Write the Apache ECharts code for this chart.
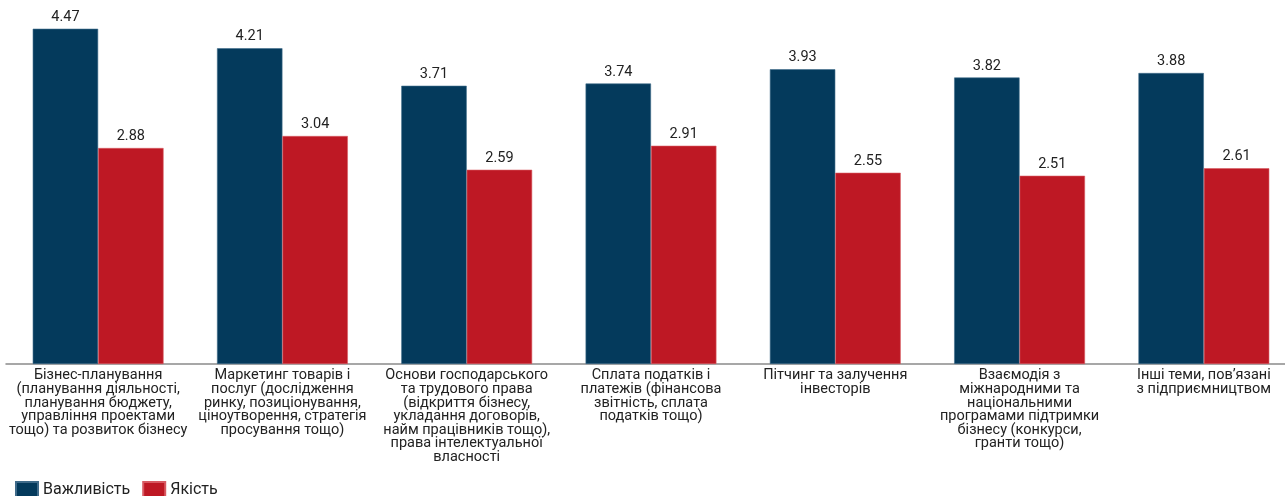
<!DOCTYPE html>
<html><head><meta charset="utf-8">
<script src="https://cdn.jsdelivr.net/npm/echarts@6/dist/echarts.min.js"></script>
<style>html,body{margin:0;padding:0;background:#fff}#c{width:1285px;height:496px}</style>
</head><body><div id="c"></div>
<script>
const categories = [
  "Бізнес-планування\n(планування діяльності,\nпланування бюджету,\nуправління проектами\nтощо) та розвиток бізнесу",
  "Маркетинг товарів і\nпослуг (дослідження\nринку, позиціонування,\nціноутворення, стратегія\nпросування тощо)",
  "Основи господарського\nта трудового права\n(відкриття бізнесу,\nукладання договорів,\nнайм працівників тощо),\nправа інтелектуальної\nвласності",
  "Сплата податків і\nплатежів (фінансова\nзвітність, сплата\nподатків тощо)",
  "Пітчинг та залучення\nінвесторів",
  "Взаємодія з\nміжнародними та\nнаціональними\nпрограмами підтримки\nбізнесу (конкурси,\nгранти тощо)",
  "Інші теми, пов’язані\nз підприємництвом"
];
const importance = [4.47, 4.21, 3.71, 3.74, 3.93, 3.82, 3.88];
const quality = [2.88, 3.04, 2.59, 2.91, 2.55, 2.51, 2.61];

const chart = echarts.init(document.getElementById('c'), null, {renderer: 'canvas'});
const font = 'Roboto';
const lbl = {show: true, position: 'top', distance: 4, color: '#222', fontSize: 14.5, fontFamily: font, formatter: p => p.value.toFixed(2)};
chart.setOption({
  animation: false,
  textStyle: {fontFamily: font},
  grid: {left: 6, width: 1290, top: 4, height: 360, containLabel: false, outerBoundsMode: 'none'},
  legend: {
    left: 15, top: 481, padding: 0, itemWidth: 22, itemHeight: 16, itemGap: 12,
    icon: 'rect',
    textStyle: {fontSize: 16, color: '#222', fontFamily: font},
    data: ['Важливість', 'Якість']
  },
  xAxis: {
    type: 'category', data: categories,
    axisLine: {lineStyle: {color: '#8a8a8a', width: 1.5}},
    axisTick: {show: false},
    axisLabel: {interval: 0, color: '#222', fontSize: 14.5, lineHeight: 13.6, fontFamily: font, margin: 5, verticalAlign: 'top'}
  },
  yAxis: {type: 'value', min: 0, max: 4.8, show: false, splitLine: {show: false}},
  series: [
    {name: 'Важливість', type: 'bar', data: importance, barGap: '0%', barCategoryGap: '29%',
     itemStyle: {color: '#043a5c', borderColor: '#3f6b8a', borderWidth: 0.6}, label: lbl},
    {name: 'Якість', type: 'bar', data: quality,
     itemStyle: {color: '#be1824', borderColor: '#d85a62', borderWidth: 0.6}, label: lbl}
  ]
});
</script></body></html>
